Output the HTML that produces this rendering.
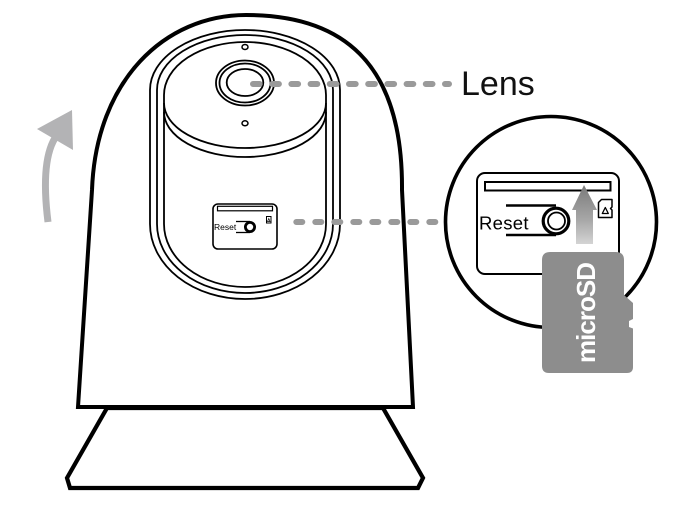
<!DOCTYPE html>
<html>
<head>
<meta charset="utf-8">
<style>
  html, body { margin: 0; padding: 0; background: #ffffff; }
  body { width: 678px; height: 511px; overflow: hidden; }
  svg { display: block; }
  text { font-family: "Liberation Sans", "DejaVu Sans", sans-serif; }
</style>
</head>
<body>
<svg width="678" height="511" viewBox="0 0 678 511" xmlns="http://www.w3.org/2000/svg">
  <defs>
    <linearGradient id="upg" x1="0" y1="0" x2="0" y2="1">
      <stop offset="0" stop-color="#7a7a7a"/>
      <stop offset="0.6" stop-color="#a8a8a8"/>
      <stop offset="1" stop-color="#d4d4d4"/>
    </linearGradient>
  </defs>
  <rect x="0" y="0" width="678" height="511" fill="#ffffff"/>

  <!-- curved rotation arrow -->
  <path d="M48,222 Q40,158 57,135" stroke="#b3b3b5" stroke-width="7" fill="none"/>
  <polygon points="72,110 37,129 73,150" fill="#b3b3b5"/>

  <!-- camera body -->
  <path d="M78,407 L92,190 C96,80 165,15 246,15 C340,15 403,60 402,190 L413,407 Z"
        fill="#ffffff" stroke="#000" stroke-width="4" stroke-linejoin="miter"/>

  <!-- base -->
  <path d="M107,408 L383,408 L423,478 L418,488 L70,488 L67,478 Z"
        fill="#ffffff" stroke="#000" stroke-width="4.2" stroke-linejoin="miter"/>

  <!-- face pills -->
  <g fill="none" stroke="#000" stroke-width="1.8">
    <path d="M150,90 A95,60 0 0 1 340,90 L340,224 A95,75 0 0 1 150,224 Z"/>
    <path d="M157,90 A88,55 0 0 1 333,90 L333,224 A88,69 0 0 1 157,224 Z"/>
    <path d="M164,95 A81,53 0 0 1 326,95 L326,224 A81,63 0 0 1 164,224 Z"/>
    <!-- lens plate lower edges -->
    <path d="M164,103 A81,45 0 0 0 326,103"/>
    <path d="M164,112 A81,45 0 0 0 326,112"/>
    <!-- lens -->
    <ellipse cx="245" cy="83" rx="29" ry="22.5"/>
    <ellipse cx="245" cy="83" rx="25.5" ry="19.5"/>
    <ellipse cx="245" cy="82.5" rx="18.3" ry="13.5"/>
    <!-- small dots -->
    <ellipse cx="245" cy="47" rx="3" ry="2.5" stroke-width="1.5"/>
    <ellipse cx="245" cy="123.3" rx="3" ry="2.5" stroke-width="1.5"/>
  </g>

  <!-- small reset panel on face -->
  <g fill="none" stroke="#000">
    <rect x="213" y="204" width="64" height="45" rx="5" stroke-width="1.6"/>
    <rect x="217.5" y="206.3" width="55" height="4.5" stroke-width="1.2"/>
    <line x1="236" y1="221.5" x2="250" y2="221.5" stroke-width="1.3"/>
    <line x1="236" y1="232.5" x2="250" y2="232.5" stroke-width="1.3"/>
    <circle cx="250" cy="227" r="4.6" stroke-width="2.8" fill="#fff"/>
    <path d="M266.5,216.5 H271 V223 H266.5 Z" stroke-width="1"/>
    <path d="M267.5,221.5 L268.8,218.5 L270,221.5 Z" stroke-width="0.7"/>
  </g>
  <text x="214" y="230" font-size="8.5" fill="#000">Reset</text>

  <!-- lens dashed connector -->
  <line x1="253" y1="84" x2="449" y2="84" stroke="#9a9a9a" stroke-width="6"
        stroke-linecap="round" stroke-dasharray="6.7 12.5"/>
  <text x="461" y="95" font-size="34" fill="#111">Lens</text>

  <!-- reset dashed connector -->
  <line x1="296.3" y1="222" x2="436" y2="222" stroke="#9a9a9a" stroke-width="6"
        stroke-linecap="round" stroke-dasharray="6 13"/>

  <!-- detail circle -->
  <circle cx="551" cy="222" r="105.5" fill="#ffffff" stroke="#000" stroke-width="3.6"/>

  <!-- panel in circle -->
  <g fill="none" stroke="#000">
    <rect x="477" y="173" width="142" height="101" rx="8" stroke-width="2"/>
    <rect x="485" y="182" width="125.5" height="8.5" stroke-width="2"/>
    <line x1="506" y1="205.5" x2="556" y2="205.5" stroke-width="2.6"/>
    <line x1="506" y1="235" x2="556" y2="235" stroke-width="2.6"/>
    <circle cx="556" cy="221" r="12.8" stroke-width="3.2" fill="#fff"/>
    <circle cx="556.5" cy="221" r="8.5" stroke-width="1.8"/>
    <!-- sd icon -->
    <path d="M601.5,199.5 H612 V207 L610.5,208.5 L612,210 V217.5 H598.5 V202.5 Z" stroke-width="1.5" stroke-linejoin="round"/>
    <path d="M602.3,213.5 L605.3,207.5 L608.3,213.5 Z" stroke-width="1.3" stroke-linejoin="round"/>
  </g>
  <text x="479" y="229.3" font-size="18.5" letter-spacing="0.3" fill="#000">Reset</text>

  <!-- insertion arrow -->
  <polygon points="584,185 572,210 576,210 576,244 593,244 593,210 597,210" fill="url(#upg)"/>

  <!-- microSD card -->
  <path d="M550,252 H616 Q624,252 624,260 V295 L633,303 V319 L629,321 V327 L633,328.5 V367 Q633,373 627,373 H549 Q542,373 542,366 V260 Q542,252 550,252 Z"
        fill="#8d8d8d"/>
  <text transform="translate(595,313) rotate(-90)" text-anchor="middle" font-size="26"
        font-weight="bold" letter-spacing="-1" fill="#ffffff">microSD</text>
</svg>
</body>
</html>
